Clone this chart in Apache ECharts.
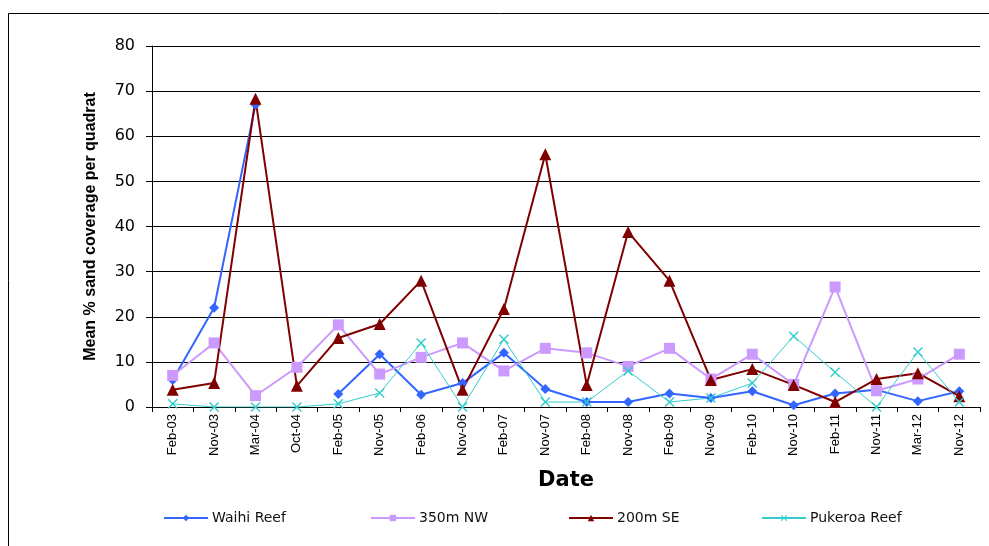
<!DOCTYPE html>
<html>
<head>
<meta charset="utf-8">
<script src="https://cdn.jsdelivr.net/npm/echarts@6/dist/echarts.min.js"></script>
<style>
  html, body { margin: 0; padding: 0; background: #fff; }
  #main { width: 989px; height: 546px; }
</style>
</head>
<body>
<div id="main"></div>
<script>
// survey dates
var dates = ['Feb-03','Nov-03','Mar-04','Oct-04','Feb-05','Nov-05','Feb-06','Nov-06','Feb-07','Nov-07',
             'Feb-08','Nov-08','Feb-09','Nov-09','Feb-10','Nov-10','Feb-11','Nov-11','Mar-12','Nov-12'];

// mean % sand coverage per site
var waihiReef   = [6, 22, 67, null, 2.9, 11.7, 2.7, 5.3, 12, 4, 1.1, 1.1, 3, 2, 3.5, 0.4, 3, 3.8, 1.3, 3.5];
var nw350       = [7, 14.2, 2.5, 8.8, 18.2, 7.3, 11, 14.2, 8, 13, 12, 9, 13, 6.2, 11.7, 5, 26.6, 3.6, 6.2, 11.7];
var se200       = [3.8, 5.3, 68.3, 4.7, 15.3, 18.4, 28, 3.8, 21.7, 56, 4.9, 38.8, 28, 6, 8.4, 4.9, 1.1, 6.2, 7.5, 2.4];
var pukeroaReef = [0.7, 0, 0, 0, 0.7, 3.1, 14.2, 0, 15, 1.1, 1.1, 8, 1.1, 2, 5.3, 15.7, 7.7, 0, 12.2, 1.1];

var seriesNames = ['Waihi Reef', '350m NW', '200m SE', 'Pukeroa Reef'];
var yTicks = [0, 10, 20, 30, 40, 50, 60, 70, 80];

var crossPath = 'path://M0,1L1,0L5,4L9,0L10,1L6,5L10,9L9,10L5,6L1,10L0,9L4,5Z';
var font = 'Liberation Sans, Arial, sans-serif';
var wideFont = 'DejaVu Sans, sans-serif';

// one legend per entry so each sits where it does in the original
var legendLefts = [158, 365, 563, 756];
var legends = seriesNames.map(function (n, i) {
    return {
        left: legendLefts[i],
        top: 506,
        itemWidth: 44,
        itemHeight: 8,
        textStyle: { fontFamily: wideFont, fontSize: 14, color: '#111', padding: [0, 0, 0, -1] },
        data: [n]
    };
});

var myChart = echarts.init(document.getElementById('main'));
myChart.setOption({
    animation: false,
    backgroundColor: '#fff',
    graphic: [{
        type: 'rect',
        shape: { x: 8.5, y: 13.5, width: 1000, height: 600 },
        style: { fill: 'none', stroke: '#000', lineWidth: 1 }
    }],
    legend: legends,
    grid: {
        left: 152,
        right: 9,
        top: 46,
        bottom: 139
    },
    xAxis: {
        type: 'category',
        data: dates,
        boundaryGap: true,
        name: 'Date',
        nameLocation: 'middle',
        nameGap: 63,
        nameTextStyle: { fontFamily: wideFont, fontSize: 21, fontWeight: 'bold', color: '#000' },
        axisLine: { lineStyle: { color: '#000', width: 1 } },
        axisTick: { show: true, length: 5, lineStyle: { color: '#000' } },
        axisLabel: { interval: 0, rotate: 90, fontFamily: font, fontSize: 13, color: '#000', margin: 7 }
    },
    yAxis: {
        type: 'value',
        min: yTicks[0],
        max: yTicks[yTicks.length - 1],
        interval: 10,
        name: 'Mean % sand coverage per quadrat',
        nameLocation: 'middle',
        nameGap: 53,
        nameTextStyle: { fontFamily: font, fontSize: 16, fontWeight: 'bold', color: '#000', padding: [0, 0, 0, 0] },
        axisLine: { show: true, lineStyle: { color: '#000', width: 1 } },
        axisTick: { show: true, length: 6, lineStyle: { color: '#000' } },
        axisLabel: { fontFamily: wideFont, fontSize: 16, color: '#000', margin: 17 },
        splitLine: { lineStyle: { color: '#000', width: 1 } }
    },
    series: [
        {
            name: seriesNames[0],
            type: 'line',
            data: waihiReef,
            connectNulls: false,
            symbol: 'diamond',
            symbolSize: 10,
            color: '#3366FF',
            lineStyle: { width: 2 }
        },
        {
            name: seriesNames[1],
            type: 'line',
            data: nw350,
            symbol: 'rect',
            symbolSize: 11,
            color: '#CC99FF',
            lineStyle: { width: 2 }
        },
        {
            name: seriesNames[2],
            type: 'line',
            data: se200,
            symbol: 'triangle',
            symbolSize: 12,
            color: '#800000',
            lineStyle: { width: 2 }
        },
        {
            name: seriesNames[3],
            type: 'line',
            data: pukeroaReef,
            symbol: crossPath,
            symbolSize: 10,
            color: '#33CCCC',
            lineStyle: { width: 1 }
        }
    ]
});
</script>
</body>
</html>
